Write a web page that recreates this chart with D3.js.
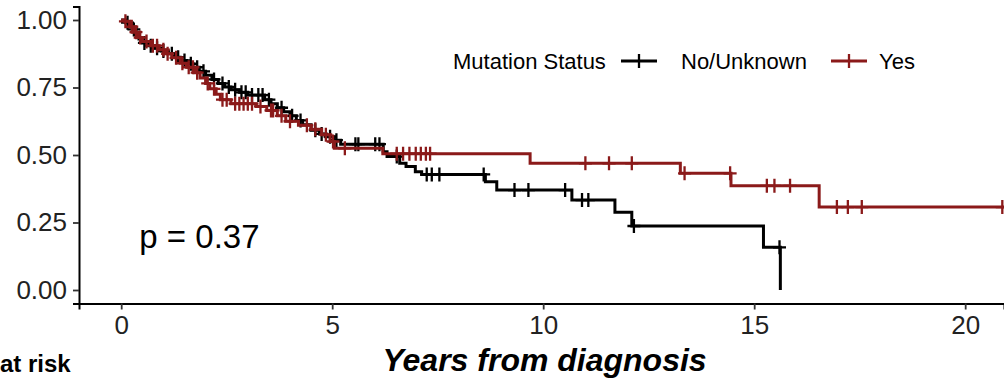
<!DOCTYPE html>
<html><head><meta charset="utf-8">
<script src="https://cdn.jsdelivr.net/npm/d3@7"></script>
<style>
body{margin:0;background:#fff;}
svg{display:block;font-family:"Liberation Sans",Arial,sans-serif;}
</style></head>
<body><svg id="c" width="1004" height="380"></svg>
<script>
// ---- data ----
const groups = ["No/Unknown", "Yes"];
const colors = ["#000000", "#8B1A1A"];
const xTicks = [0, 5, 10, 15, 20];
const yTicks = [0, 0.25, 0.5, 0.75, 1];
const yTickLabels = ["0.00", "0.25", "0.50", "0.75", "1.00"];

const noTimes = [0,0.10,0.20,0.28,0.35,0.42,0.50,0.65,0.80,0.95,1.10,1.25,1.40,1.55,1.70,1.85,2.00,2.15,2.30,2.45,2.60,2.80,3.00,3.40,3.55,3.70,3.85,4.00,4.15,4.30,4.50,4.70,4.85,5.05,5.20,6.21,6.30,6.60,6.75,6.97,7.12,8.63,8.90,10.68,11.70,12.10,15.22,15.62];
const noSurv  = [1,0.99,0.98,0.965,0.945,0.93,0.915,0.905,0.895,0.885,0.875,0.862,0.85,0.838,0.825,0.81,0.795,0.78,0.765,0.752,0.742,0.732,0.722,0.705,0.69,0.675,0.66,0.645,0.628,0.612,0.592,0.578,0.568,0.555,0.54,0.512,0.494,0.469,0.457,0.438,0.428,0.401,0.370,0.333,0.288,0.237,0.158,0];
const noCensor = [0.15,0.3,0.55,0.7,0.85,1.0,1.2,1.35,1.5,1.65,1.8,1.95,2.2,2.4,2.55,2.7,2.85,2.95,3.1,3.25,3.35,3.5,3.8,4.05,4.25,4.6,4.75,4.95,5.1,5.55,5.62,6.02,6.12,6.53,7.24,7.36,7.54,8.59,9.32,9.65,10.52,10.92,11.07,12.15,15.6];
const noEnd = 15.62;

const yesTimes = [0,0.08,0.20,0.30,0.40,0.50,0.70,0.90,1.05,1.20,1.40,1.55,1.75,1.87,2.00,2.10,2.25,2.35,2.60,3.20,3.45,3.70,3.90,4.20,4.50,4.75,4.95,5.05,6.20,9.69,13.25,14.45,16.54];
const yesSurv  = [1,0.995,0.975,0.955,0.935,0.92,0.905,0.89,0.875,0.86,0.84,0.825,0.805,0.785,0.765,0.745,0.725,0.705,0.69,0.68,0.665,0.645,0.625,0.61,0.595,0.575,0.55,0.525,0.505,0.469,0.432,0.386,0.307];
const yesCensor = [0.1,0.25,0.35,0.45,0.6,0.75,0.85,1.0,1.1,1.3,1.45,1.6,1.7,1.8,2.05,2.2,2.4,2.5,2.7,2.8,2.9,3.0,3.1,3.3,3.55,3.6,3.8,4.0,4.4,4.6,4.85,5.02,5.3,6.53,6.68,6.83,6.98,7.1,7.22,7.32,11.0,11.56,12.1,13.35,14.43,15.3,15.48,15.85,16.96,17.22,17.55,20.88];
const yesEnd = 20.95;

const pText = "p = 0.37";
const xTitle = "Years from diagnosis";
const legendTitle = "Mutation Status";
const riskLabel = "at risk";

// ---- layout ----
const svg = d3.select("#c");
const L = 79, R = 1004, T = 6.5, B = 303.5;
const x = d3.scaleLinear().domain([-1, 20.92]).range([L, R]);
const y = d3.scaleLinear().domain([-0.05, 1.05]).range([B, T]);

svg.append("defs").append("clipPath").attr("id","clip")
  .append("rect").attr("x",L).attr("y",0).attr("width",R-L).attr("height",B);

const series = [
  {times: noTimes, surv: noSurv, censor: noCensor, end: noEnd},
  {times: yesTimes, surv: yesSurv, censor: yesCensor, end: yesEnd}
];

const g = svg.append("g").attr("clip-path","url(#clip)");
const line = d3.line().x(d=>x(d[0])).y(d=>y(d[1])).curve(d3.curveStepAfter);
const bis = d3.bisector(d=>d).right;

series.forEach((s,i)=>{
  const pts = s.times.map((t,k)=>[t, s.surv[k]]);
  pts.push([s.end, s.surv[s.surv.length-1]]);
  g.append("path").attr("d", line(pts)).attr("fill","none")
    .attr("stroke", colors[i]).attr("stroke-width", 3).attr("stroke-linejoin","miter");
  s.censor.forEach(c=>{
    const k = bis(s.times, c) - 1;
    const v = s.surv[Math.max(0,k)];
    const cx = x(c), cy = y(v);
    g.append("path").attr("d", `M${cx-6.5},${cy}H${cx+6.5}M${cx},${cy-7}V${cy+7}`)
      .attr("stroke", colors[i]).attr("stroke-width", 2.3).attr("fill","none");
  });
});

// axes
const yAxis = svg.append("g").attr("transform",`translate(${L},0)`)
  .call(d3.axisLeft(y).tickValues(yTicks).tickFormat((d,i)=>yTickLabels[i]).tickSize(6).tickPadding(6));
const xAxis = svg.append("g").attr("transform",`translate(0,${B})`)
  .call(d3.axisBottom(x).tickValues(xTicks).tickSize(6).tickPadding(6));
[yAxis, xAxis].forEach(a=>{
  a.select(".domain").attr("stroke","#000").attr("stroke-width",2);
  a.selectAll(".tick line").attr("stroke","#333").attr("stroke-width",1.8);
  a.selectAll(".tick text").attr("fill","#222").attr("font-size",26)
    .attr("font-family","Liberation Sans, Arial, sans-serif");
});

// texts
svg.append("text").attr("x", x(0.43)).attr("y", y(0.155)).text(pText)
  .attr("font-size", 33).attr("fill","#000");
svg.append("text").attr("x", (L + R)/2 + 3).attr("y", 371).text(xTitle)
  .attr("text-anchor","middle").attr("font-size", 32).attr("font-weight","bold")
  .attr("font-style","italic").attr("fill","#000");
svg.append("text").attr("x", 0).attr("y", 372).text(riskLabel)
  .attr("font-size", 24).attr("font-weight","bold").attr("fill","#000");

// legend
const lg = svg.append("g");
lg.append("text").attr("x", 453).attr("y", 69).text(legendTitle).attr("font-size", 22).attr("fill","#000");
const keyX = [621, 831], labX = [681, 879];
groups.forEach((gname,i)=>{
  const kx = keyX[i], ky = 61;
  lg.append("path").attr("d", `M${kx},${ky}H${kx+36}`).attr("stroke",colors[i]).attr("stroke-width",3);
  lg.append("path").attr("d", `M${kx+18},${ky-7}V${ky+7}`).attr("stroke",colors[i]).attr("stroke-width",2.3);
  lg.append("text").attr("x", labX[i]).attr("y", 69).text(gname).attr("font-size", 22).attr("fill","#000");
});
</script></body></html>
